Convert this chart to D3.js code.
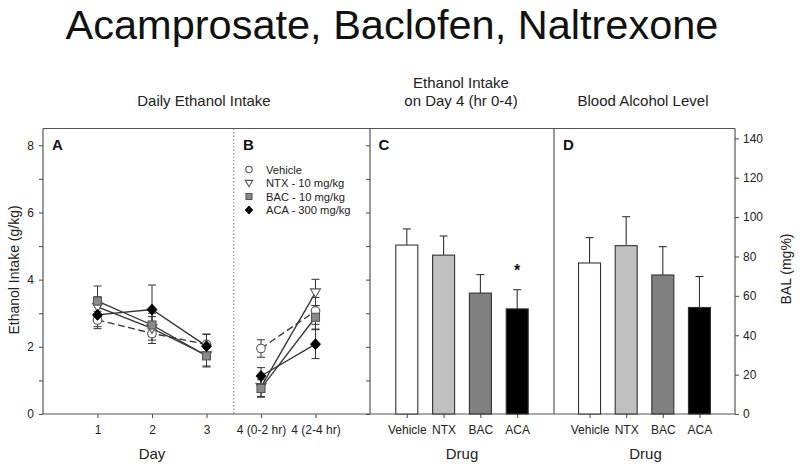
<!DOCTYPE html>
<html>
<head>
<meta charset="utf-8">
<script src="https://cdn.jsdelivr.net/npm/d3@7/dist/d3.min.js"></script>
<style>
  html, body { margin: 0; padding: 0; background: #fff; }
  svg { display: block; font-family: "Liberation Sans", Arial, sans-serif; }
</style>
</head>
<body>
<svg id="chart" width="800" height="470"></svg>
<script>
// ---------- data ----------
const dayLabels = ["1", "2", "3", "4 (0-2 hr)", "4 (2-4 hr)"];
const seriesNames = ["Vehicle", "NTX - 10 mg/kg", "BAC - 10 mg/kg", "ACA - 300 mg/kg"];
const vehicleMean = [2.80, 2.40, 2.07, 1.95, 3.07];
const vehicleSem  = [0.26, 0.30, 0.30, 0.26, 0.40];
const ntxMean     = [3.19, 2.55, 1.75, 0.80, 3.62];
const ntxSem      = [0.30, 0.35, 0.35, 0.28, 0.39];
const bacMean     = [3.36, 2.65, 1.73, 0.76, 2.88];
const bacSem      = [0.45, 0.35, 0.30, 0.26, 0.35];
const acaMean     = [2.95, 3.11, 2.02, 1.13, 2.08];
const acaSem      = [0.35, 0.73, 0.36, 0.25, 0.43];

const drugs = ["Vehicle", "NTX", "BAC", "ACA"];
const intakeMean = [5.03, 4.73, 3.60, 3.13];
const intakeSem  = [0.48, 0.57, 0.55, 0.57];
const balMean = [76.7, 85.5, 70.6, 54.1];
const balSem  = [12.9, 14.7, 14.4, 15.7];
const barFills = ["#ffffff", "#c0c0c0", "#808080", "#000000"];

const leftTicks = [0, 1, 2, 3, 4, 5, 6, 7, 8];
const rightTicks = [0, 20, 40, 60, 80, 100, 120, 140];

// ---------- layout ----------
const svg = d3.select("#chart");
const X0 = 43, XB = 370, XD = 554, XR = 735, YT = 128.5, YB = 414;
const axisCol = "#555", lineCol = "#333";

const yL = d3.scaleLinear().domain([0, 8.5]).range([YB, YT]);
const yR = d3.scaleLinear().domain([0, 145]).range([YB, YT]);
const xLine = d3.scaleLinear().domain([0, 6]).range([X0, XB]);
const xC = d3.scalePoint().domain(drugs).range([XB, XD]).padding(1);
const xDp = d3.scalePoint().domain(drugs).range([XD, XR]).padding(0.97);

// ---------- title and headings ----------
svg.append("text").attr("x", 392).attr("y", 38.5).attr("text-anchor", "middle")
  .attr("font-size", 41.5).attr("fill", "#111").text("Acamprosate, Baclofen, Naltrexone");
svg.append("text").attr("x", 204).attr("y", 106).attr("text-anchor", "middle")
  .attr("font-size", 15).attr("fill", "#222").text("Daily Ethanol Intake");
svg.append("text").attr("x", 461).attr("y", 88).attr("text-anchor", "middle")
  .attr("font-size", 15).attr("fill", "#222").text("Ethanol Intake");
svg.append("text").attr("x", 461).attr("y", 106).attr("text-anchor", "middle")
  .attr("font-size", 15).attr("fill", "#222").text("on Day 4 (hr 0-4)");
svg.append("text").attr("x", 643).attr("y", 106).attr("text-anchor", "middle")
  .attr("font-size", 15).attr("fill", "#222").text("Blood Alcohol Level");

// ---------- frame ----------
const frame = svg.append("g").attr("stroke", axisCol).attr("stroke-width", 1.2).attr("fill", "none");
frame.append("line").attr("x1", X0).attr("x2", XR).attr("y1", YT).attr("y2", YT);
frame.append("line").attr("x1", X0).attr("x2", X0).attr("y1", YT).attr("y2", YB);
frame.append("line").attr("x1", XB).attr("x2", XB).attr("y1", YT).attr("y2", YB);
frame.append("line").attr("x1", XD).attr("x2", XD).attr("y1", YT).attr("y2", YB);
svg.append("line").attr("x1", xLine(3.5)).attr("x2", xLine(3.5)).attr("y1", YT).attr("y2", YB)
  .attr("stroke", "#777").attr("stroke-width", 1).attr("stroke-dasharray", "1.5,2");

function styleAxis(g) {
  g.selectAll("path").attr("stroke", axisCol).attr("stroke-width", 1.2);
  g.selectAll("line").attr("stroke", axisCol).attr("stroke-width", 1.1);
  g.selectAll("text").attr("fill", "#222").attr("font-family", "Liberation Sans, Arial, sans-serif");
}

// left axis
const gL = svg.append("g").attr("transform", `translate(${X0},0)`)
  .call(d3.axisLeft(yL).tickValues(leftTicks).tickSize(4).tickSizeOuter(0).tickPadding(5)
    .tickFormat(d => d % 2 === 0 ? d : ""));
gL.select(".domain").remove();
gL.selectAll("text").attr("font-size", 12);
styleAxis(gL);

// inner tick marks on panel C left border
const gC = svg.append("g").attr("transform", `translate(${XB},0)`)
  .call(d3.axisLeft(yL).tickValues(leftTicks).tickSize(4).tickSizeOuter(0).tickFormat(""));
gC.select(".domain").remove();
styleAxis(gC);

// right axis
const gR = svg.append("g").attr("transform", `translate(${XR},0)`)
  .call(d3.axisRight(yR).tickValues(rightTicks).tickSize(4).tickSizeOuter(0).tickPadding(4));
gR.select(".domain").attr("d", `M0,${YB}V${YT}`);
gR.selectAll("text").attr("font-size", 12);
styleAxis(gR);

// bottom axes
const gX = svg.append("g").attr("transform", `translate(0,${YB})`)
  .call(d3.axisBottom(xLine).tickValues([1, 2, 3, 4, 5]).tickSize(4).tickSizeOuter(0).tickPadding(7)
    .tickFormat((d, i) => dayLabels[i]));
gX.select(".domain").attr("d", `M${X0},0H${XR}`);
gX.selectAll("text").attr("font-size", 12);
styleAxis(gX);

const gXC = svg.append("g").attr("transform", `translate(0,${YB})`)
  .call(d3.axisBottom(xC).tickSize(4).tickSizeOuter(0).tickPadding(7));
gXC.select(".domain").remove();
gXC.selectAll("text").attr("font-size", 12);
styleAxis(gXC);

const gXD = svg.append("g").attr("transform", `translate(0,${YB})`)
  .call(d3.axisBottom(xDp).tickSize(4).tickSizeOuter(0).tickPadding(7));
gXD.select(".domain").remove();
gXD.selectAll("text").attr("font-size", 12);
styleAxis(gXD);

// axis titles
svg.append("text").attr("transform", "translate(19,270) rotate(-90)").attr("text-anchor", "middle")
  .attr("font-size", 14).attr("fill", "#222").text("Ethanol Intake (g/kg)");
svg.append("text").attr("transform", "translate(791,269) rotate(-90)").attr("text-anchor", "middle")
  .attr("font-size", 14).attr("fill", "#222").text("BAL (mg%)");
svg.append("text").attr("x", xLine(2)).attr("y", 459).attr("text-anchor", "middle")
  .attr("font-size", 15).attr("fill", "#222").text("Day");
svg.append("text").attr("x", (XB + XD) / 2).attr("y", 459).attr("text-anchor", "middle")
  .attr("font-size", 15).attr("fill", "#222").text("Drug");
svg.append("text").attr("x", (XD + XR) / 2 + 1).attr("y", 459).attr("text-anchor", "middle")
  .attr("font-size", 15).attr("fill", "#222").text("Drug");

// panel letters
[["A", 52], ["B", 243], ["C", 378.5], ["D", 563]].forEach(([t, x]) => {
  svg.append("text").attr("x", x).attr("y", 149.5).attr("font-size", 15).attr("font-weight", "bold")
    .attr("fill", "#111").text(t);
});

// ---------- line panels A & B ----------
const series = [
  { name: seriesNames[0], mean: vehicleMean, sem: vehicleSem, dash: "7,3.5", sym: "circle" },
  { name: seriesNames[1], mean: ntxMean, sem: ntxSem, dash: null, sym: "triangle" },
  { name: seriesNames[2], mean: bacMean, sem: bacSem, dash: null, sym: "square" },
  { name: seriesNames[3], mean: acaMean, sem: acaSem, dash: null, sym: "diamond" }
];

function drawSymbol(g, sym, x, y, k) {
  k = k || 1;
  if (sym === "circle") {
    g.append("circle").attr("cx", x).attr("cy", y).attr("r", 4.3 * k)
      .attr("fill", "#fff").attr("stroke", "#555").attr("stroke-width", 1.1);
  } else if (sym === "triangle") {
    g.append("path").attr("d", `M${x - 5 * k},${y - 3.5 * k}L${x + 5 * k},${y - 3.5 * k}L${x},${y + 5 * k}Z`)
      .attr("fill", "#fff").attr("stroke", "#555").attr("stroke-width", 1.1);
  } else if (sym === "square") {
    g.append("rect").attr("x", x - 4 * k).attr("y", y - 4 * k).attr("width", 8 * k).attr("height", 8 * k)
      .attr("fill", "#8a8a8a").attr("stroke", "#555").attr("stroke-width", 1.1);
  } else {
    g.append("path").attr("d", `M${x},${y - 5.5 * k}L${x + 5 * k},${y}L${x},${y + 5.5 * k}L${x - 5 * k},${y}Z`)
      .attr("fill", "#000").attr("stroke", "#000").attr("stroke-width", 0.8);
  }
}

const linesG = svg.append("g");
const errG = svg.append("g");
const symG = svg.append("g");
const lineGen = d3.line().x(d => xLine(d.i + 1)).y(d => yL(d.v));

series.forEach(s => {
  const pts = s.mean.map((v, i) => ({ v, i, e: s.sem[i] }));
  [pts.slice(0, 3), pts.slice(3, 5)].forEach(seg => {
    linesG.append("path").attr("d", lineGen(seg)).attr("fill", "none")
      .attr("stroke", lineCol).attr("stroke-width", 1.3)
      .attr("stroke-dasharray", s.dash);
  });
  pts.forEach(p => {
    const x = xLine(p.i + 1);
    errG.append("line").attr("x1", x).attr("x2", x).attr("y1", yL(p.v - p.e)).attr("y2", yL(p.v + p.e))
      .attr("stroke", lineCol).attr("stroke-width", 1);
    [p.v - p.e, p.v + p.e].forEach(v => {
      errG.append("line").attr("x1", x - 4).attr("x2", x + 4).attr("y1", yL(v)).attr("y2", yL(v))
        .attr("stroke", lineCol).attr("stroke-width", 1);
    });
  });
  pts.forEach(p => drawSymbol(symG, s.sym, xLine(p.i + 1), yL(p.v)));
});

// legend
const legY = [169.5, 183, 196.5, 210];
series.forEach((s, i) => {
  drawSymbol(svg, s.sym, 249, legY[i], 0.75);
  svg.append("text").attr("x", 266).attr("y", legY[i] + 4).attr("font-size", 11.2)
    .attr("fill", "#222").text(s.name);
});

// ---------- bar panels ----------
function drawBars(xs, ys, means, sems) {
  const bw = 22;
  const g = svg.append("g");
  drugs.forEach((d, i) => {
    const cx = xs(d);
    g.append("line").attr("x1", cx).attr("x2", cx).attr("y1", ys(means[i])).attr("y2", ys(means[i] + sems[i]))
      .attr("stroke", lineCol).attr("stroke-width", 1.1);
    g.append("line").attr("x1", cx - 4).attr("x2", cx + 4)
      .attr("y1", ys(means[i] + sems[i])).attr("y2", ys(means[i] + sems[i]))
      .attr("stroke", lineCol).attr("stroke-width", 1.1);
    g.append("rect").attr("x", cx - bw / 2).attr("y", ys(means[i]))
      .attr("width", bw).attr("height", ys(0) - ys(means[i]))
      .attr("fill", barFills[i]).attr("stroke", "#333").attr("stroke-width", 1.1);
  });
}
drawBars(xC, yL, intakeMean, intakeSem);
drawBars(xDp, yR, balMean, balSem);

// significance star over ACA intake
svg.append("text").attr("x", xC("ACA")).attr("y", yL(intakeMean[3] + intakeSem[3]) - 14)
  .attr("text-anchor", "middle").attr("font-size", 16).attr("font-weight", "bold")
  .attr("fill", "#111").text("*");
</script>
</body>
</html>
